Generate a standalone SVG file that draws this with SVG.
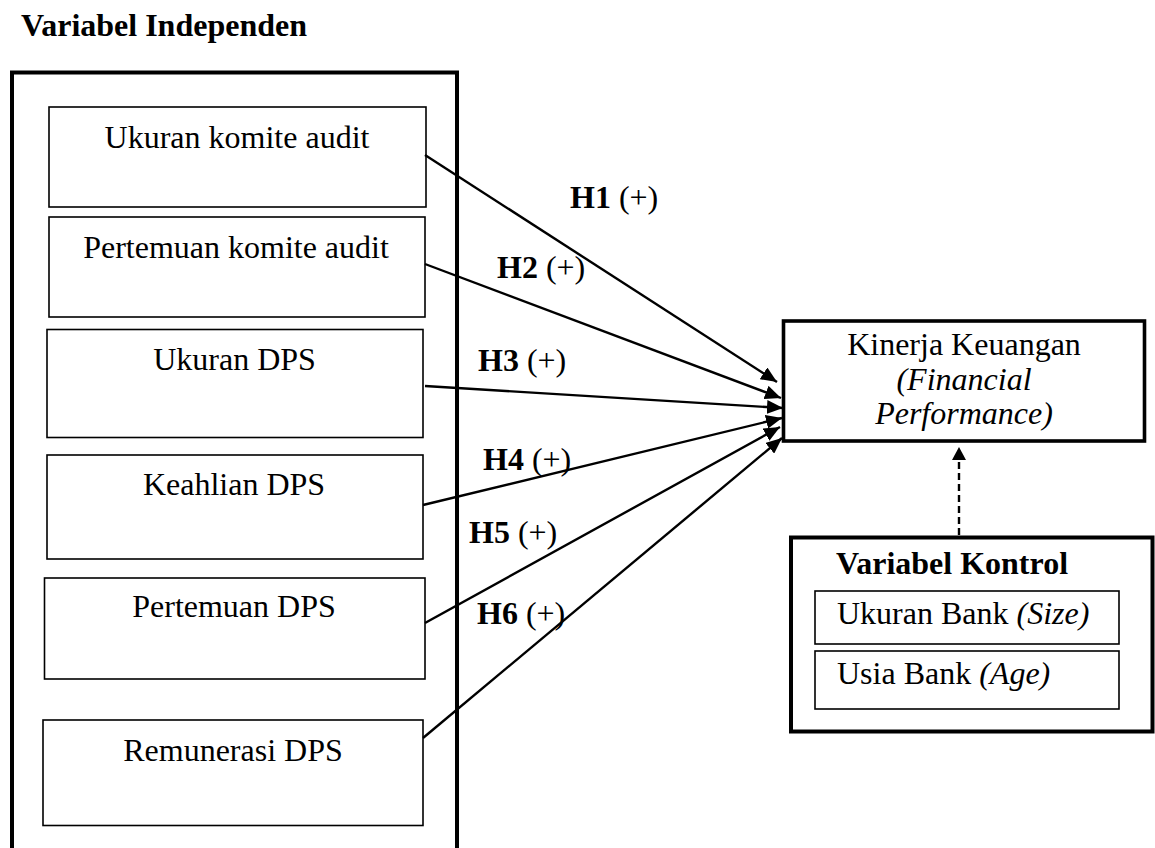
<svg xmlns="http://www.w3.org/2000/svg" width="1155" height="848" viewBox="0 0 1155 848">
<style>
text{font-family:"Liberation Serif","Times New Roman",serif;font-size:32px;fill:#000}
.b{font-weight:bold}
.i{font-style:italic}
.c{text-anchor:middle}
.thick{fill:#fff;stroke:#000;stroke-width:4}
.thin{fill:#fff;stroke:#000;stroke-width:1.6}
.con{stroke:#000;stroke-width:2.4;fill:none}
</style>
<defs>
<marker id="ah" markerUnits="userSpaceOnUse" markerWidth="17" markerHeight="14" refX="16" refY="7" orient="auto">
<path d="M0,0 L16,7 L0,14 z" fill="#000"/>
</marker>
<marker id="ah2" markerUnits="userSpaceOnUse" markerWidth="14" markerHeight="14" refX="13" refY="7" orient="auto">
<path d="M0,0 L13,7 L0,14 z" fill="#000"/>
</marker>
</defs>
<rect width="1155" height="848" fill="#fff"/>
<text x="21" y="36" class="b">Variabel Independen</text>
<g id="independen">
<rect class="thick" x="12" y="72.5" width="445" height="785"/>
</g>
<g id="n1"><rect class="thin" x="49" y="107" width="377" height="100"/><text class="c" x="237" y="148">Ukuran komite audit</text></g>
<g id="n2"><rect class="thin" x="49" y="217" width="376" height="100"/><text class="c" x="236" y="258">Pertemuan komite audit</text></g>
<g id="n3"><rect class="thin" x="47" y="329.5" width="376" height="108"/><text class="c" x="234.5" y="370">Ukuran DPS</text></g>
<g id="n4"><rect class="thin" x="47" y="455" width="376" height="104"/><text class="c" x="234" y="495">Keahlian DPS</text></g>
<g id="n5"><rect class="thin" x="44.5" y="578" width="380.5" height="101"/><text class="c" x="234" y="617">Pertemuan DPS</text></g>
<g id="n6"><rect class="thin" x="43" y="720" width="380" height="105.5"/><text class="c" x="233" y="761">Remunerasi DPS</text></g>
<g id="kinerja">
<rect x="783.5" y="321" width="361" height="120" fill="#fff" stroke="#000" stroke-width="3.6"/>
<text class="c" x="964" y="355">Kinerja Keuangan</text>
<text class="c i" x="964" y="390">(Financial</text>
<text class="c i" x="964" y="424">Performance)</text>
</g>
<g id="kontrol">
<rect class="thick" x="791" y="537.5" width="361.5" height="194"/>
<text class="b" x="836" y="574">Variabel Kontrol</text>
<rect class="thin" x="815" y="591" width="304" height="53"/>
<text x="837" y="624">Ukuran Bank <tspan class="i">(Size)</tspan></text>
<rect class="thin" x="815" y="651" width="304" height="58"/>
<text x="837" y="684">Usia Bank <tspan class="i">(Age)</tspan></text>
</g>
<g id="connectors">
<line class="con" x1="425" y1="155" x2="777" y2="382" marker-end="url(#ah)"/>
<line class="con" x1="425" y1="264" x2="781" y2="398" marker-end="url(#ah)"/>
<line class="con" x1="425" y1="386" x2="783" y2="408" marker-end="url(#ah)"/>
<line class="con" x1="423" y1="505" x2="782" y2="418" marker-end="url(#ah)"/>
<line class="con" x1="425" y1="623" x2="780" y2="427" marker-end="url(#ah)"/>
<line class="con" x1="423" y1="738" x2="782" y2="438" marker-end="url(#ah)"/>
<line class="con" x1="959" y1="535" x2="959" y2="447" stroke-dasharray="7,4" marker-end="url(#ah2)"/>
</g>
<g id="labels">
<text x="570" y="208"><tspan class="b">H1</tspan> (+)</text>
<text x="497" y="278"><tspan class="b">H2</tspan> (+)</text>
<text x="478" y="371"><tspan class="b">H3</tspan> (+)</text>
<text x="483" y="470"><tspan class="b">H4</tspan> (+)</text>
<text x="469" y="543"><tspan class="b">H5</tspan> (+)</text>
<text x="477" y="624"><tspan class="b">H6</tspan> (+)</text>
</g>
</svg>
